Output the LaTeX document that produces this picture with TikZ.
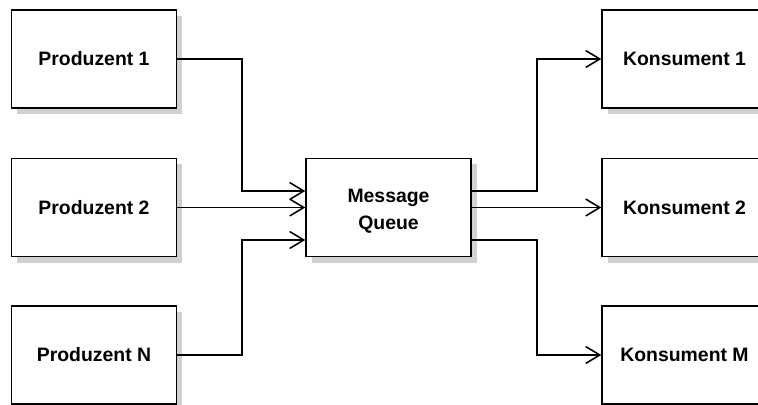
\documentclass[tikz,border=0pt]{standalone}
\usepackage{fontspec}
\setmainfont{Liberation Sans}
\usepackage{tikz}
\usetikzlibrary{arrows.meta, calc, shadows}
\tikzset{
    box/.style={draw, line width=1pt, fill=white, minimum width=4.125cm, minimum height=2.45cm,
        align=center, font=\bfseries\fontsize{13.8}{19.5}\selectfont,
        drop shadow={shadow xshift=0.14cm, shadow yshift=-0.15cm, fill=black!18, opacity=1}},
    flow/.style={line width=1.1pt, -{Straight Barb[length=10pt, width=12pt]}}
}

\begin{document}
\begin{tikzpicture}[x=0.025cm, y=0.025cm]
            \useasboundingbox (0,0) rectangle (758,405);
            \clip (0,0) rectangle (758,405);

            \node[box] (p1) at (94,346) {Produzent 1};
            \node[box] (p2) at (94,197.5) {Produzent 2};
            \node[box] (pn) at (94,50) {Produzent N};

            \node[box] (mq) at (388.5,197.5) {\rule{0pt}{15pt}Message\\Queue};

            \node[box] (k1) at (684.5,346) {Konsument 1};
            \node[box] (k2) at (684.5,197.5) {Konsument 2};
            \node[box] (km) at (684.5,50) {Konsument M};

            % ports on the queue
            \coordinate (in1) at ($(mq.west)+(0,16.5)$);
            \coordinate (in3) at ($(mq.west)+(0,-32.5)$);
            \coordinate (out1) at ($(mq.east)+(0,16.5)$);
            \coordinate (out3) at ($(mq.east)+(0,-32.5)$);

            \draw[flow] (p1.east) -- ++(65,0) |- (in1);
            \draw[flow] (p2.east) -- (mq.west);
            \draw[flow] (pn.east) -- ++(65,0) |- (in3);

            \draw[flow] (out1) -- ++(65,0) |- (k1.west);
            \draw[flow] (mq.east) -- (k2.west);
            \draw[flow] (out3) -- ++(65,0) |- (km.west);
        \end{tikzpicture}
\end{document}
